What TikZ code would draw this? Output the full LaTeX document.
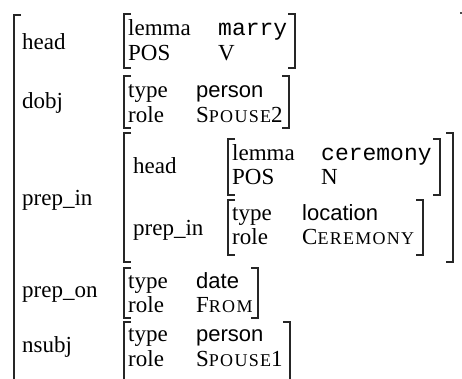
\documentclass[tikz,border=0pt]{standalone}
\usepackage{fontspec}
\setmainfont{Liberation Serif}
\setsansfont{Liberation Sans}
\setmonofont{Liberation Mono}
\newcommand{\myscap}[2]{#1{\fontsize{18}{20}\selectfont\addfontfeatures{LetterSpace=7}#2}}
\begin{document}
\begin{tikzpicture}[x=1pt,y=-1pt,
  txt/.style={anchor=base west,inner sep=0pt,font=\fontsize{23}{27}\selectfont},
  sval/.style={anchor=base west,inner sep=0pt,font=\fontsize{22}{27}\selectfont\sffamily},
  tval/.style={anchor=base west,inner sep=0pt,font=\fontsize{23}{27}\selectfont\ttfamily},
  brk/.style={line width=1.3pt,color=black!85}]
\useasboundingbox (0,0) rectangle (462,378);
% outer bracket
\draw[brk] (21,15) -- (14,15) -- (14,380);
\fill[black!70] (460,12) rectangle (462,14);
% labels
\node[txt] (l1) at (22,49) {head};
\node[txt] (l2) at (22,108) {dobj};
\node[txt] (l3) at (22,205) {prep\_in};
\node[txt] (l4) at (22,297) {prep\_on};
\node[txt] (l5) at (22,352) {nsubj};
% head block
\draw[brk] (131,14) -- (124,14) -- (124,68) -- (131,68);
\draw[brk] (288,14) -- (295,14) -- (295,68) -- (288,68);
\node[txt] (h1) at (128,35) {lemma};
\node[txt] (h2) at (128,60) {POS};
\node[tval] (h3) at (218,35) {marry};
\node[txt] (h4) at (218,60) {V};
% dobj block
\draw[brk] (131,76) -- (124,76) -- (124,128) -- (131,128);
\draw[brk] (282,76) -- (289,76) -- (289,128) -- (282,128);
\node[txt] (d1) at (128,97) {type};
\node[txt] (d2) at (128,122) {role};
\node[sval] (d3) at (196,97) {person};
\node[txt] (d4) at (196,122) {\myscap{S}{POUSE}2};
% prep_in block
\draw[brk] (131,133) -- (124,133) -- (124,262) -- (131,262);
\draw[brk] (446,133) -- (453,133) -- (453,262) -- (446,262);
\node[txt] (p1) at (133,173) {head};
\node[txt] (p2) at (133,235) {prep\_in};
\draw[brk] (235,139) -- (228,139) -- (228,195) -- (235,195);
\draw[brk] (433,139) -- (440,139) -- (440,195) -- (433,195);
\node[txt] (q1) at (232,160) {lemma};
\node[txt] (q2) at (232,184) {POS};
\node[tval] (q3) at (321,160) {ceremony};
\node[txt] (q4) at (321,184) {N};
\draw[brk] (235,200) -- (228,200) -- (228,255) -- (235,255);
\draw[brk] (416,200) -- (423,200) -- (423,255) -- (416,255);
\node[txt] (r1) at (232,220) {type};
\node[txt] (r2) at (232,244) {role};
\node[sval] (r3) at (302,220) {location};
\node[txt] (r4) at (302,244) {\myscap{C}{EREMONY}};
% prep_on block
\draw[brk] (131,268) -- (124,268) -- (124,318) -- (131,318);
\draw[brk] (251,268) -- (258,268) -- (258,318) -- (251,318);
\node[txt] (o1) at (128,288) {type};
\node[txt] (o2) at (128,312) {role};
\node[sval] (o3) at (196,288) {date};
\node[txt] (o4) at (196,312) {\myscap{F}{ROM}};
% nsubj block
\draw[brk] (131,322) -- (124,322) -- (124,380);
\draw[brk] (283,322) -- (290,322) -- (290,380);
\node[txt] (n1) at (128,341) {type};
\node[txt] (n2) at (128,366) {role};
\node[sval] (n3) at (196,341) {person};
\node[txt] (n4) at (196,366) {\myscap{S}{POUSE}1};
\end{tikzpicture}
\end{document}
